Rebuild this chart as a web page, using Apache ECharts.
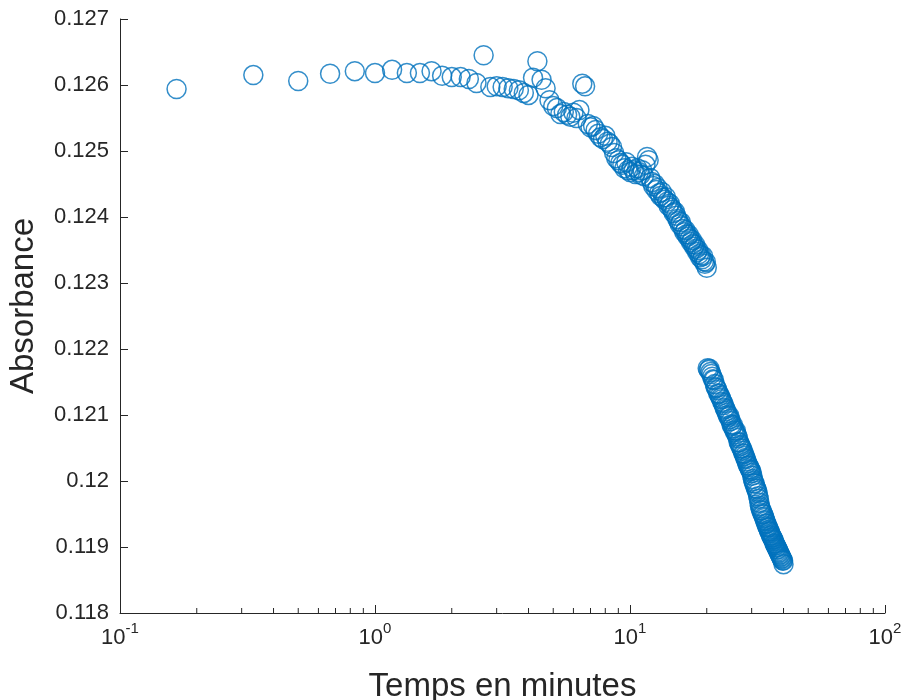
<!DOCTYPE html>
<html>
<head>
<meta charset="utf-8">
<script src="https://cdn.jsdelivr.net/npm/echarts@6/dist/echarts.min.js"></script>
<style>
html,body{margin:0;padding:0;background:#fff;}
#chart{width:904px;height:700px;}
</style>
</head>
<body>
<div id="chart"></div>
<script>
// Sample times in seconds (10 s sampling)
const timeSeconds = [
10,20,30,40,50,60,70,80,90,100,110,120,
130,140,150,160,170,180,190,200,210,220,230,240,
250,260,270,280,290,300,310,320,330,340,350,360,
370,380,390,400,410,420,430,440,450,460,470,480,
490,500,510,520,530,540,550,560,570,580,590,600,
610,620,630,640,650,660,670,680,690,700,710,720,
730,740,750,760,770,780,790,800,810,820,830,840,
850,860,870,880,890,900,910,920,930,940,950,960,
970,980,990,1000,1010,1020,1030,1040,1050,1060,1070,1080,
1090,1100,1110,1120,1130,1140,1150,1160,1170,1180,1190,1200,
1210,1220,1230,1240,1250,1260,1270,1280,1290,1300,1310,1320,
1330,1340,1350,1360,1370,1380,1390,1400,1410,1420,1430,1440,
1450,1460,1470,1480,1490,1500,1510,1520,1530,1540,1550,1560,
1570,1580,1590,1600,1610,1620,1630,1640,1650,1660,1670,1680,
1690,1700,1710,1720,1730,1740,1750,1760,1770,1780,1790,1800,
1810,1820,1830,1840,1850,1860,1870,1880,1890,1900,1910,1920,
1930,1940,1950,1960,1970,1980,1990,2000,2010,2020,2030,2040,
2050,2060,2070,2080,2090,2100,2110,2120,2130,2140,2150,2160,
2170,2180,2190,2200,2210,2220,2230,2240,2250,2260,2270,2280,
2290,2300,2310,2320,2330,2340,2350,2360,2370,2380,2390,2400
];

const absorbance = [
0.12594,0.12615,0.12606,0.12617,0.12621,0.12618,0.12623,0.12618,0.12618,0.12621,0.12614,0.12612,
0.12612,0.12609,0.12603,0.12645,0.12597,0.12598,0.12597,0.12595,0.12594,0.12592,0.12588,0.12585,
0.12611,0.12636,0.12608,0.12595,0.12577,0.12568,0.12565,0.12556,0.12559,0.12555,0.12552,0.12558,
0.12550,0.12562,0.12602,0.12598,0.12541,0.12536,0.12538,0.12532,0.12526,0.12521,0.12518,0.12523,
0.12514,0.12511,0.12506,0.12497,0.12489,0.12486,0.12482,0.12479,0.12474,0.12483,0.12471,0.12468,
0.12476,0.12471,0.12465,0.12474,0.12468,0.12464,0.12471,0.12462,0.12479,0.12491,0.12486,0.12459,
0.12453,0.12447,0.12450,0.12441,0.12444,0.12436,0.12432,0.12438,0.12429,0.12426,0.12430,0.12423,
0.12417,0.12420,0.12414,0.12411,0.12406,0.12408,0.12402,0.12397,0.12394,0.12389,0.12392,0.12386,
0.12382,0.12377,0.12380,0.12374,0.12370,0.12373,0.12367,0.12362,0.12365,0.12359,0.12355,0.12358,
0.12352,0.12347,0.12350,0.12344,0.12339,0.12342,0.12336,0.12341,0.12333,0.12329,0.12332,0.12323,
0.12171,0.12168,0.12170,0.12165,0.12162,0.12158,0.12154,0.12153,0.12147,0.12142,0.12141,0.12138,
0.12133,0.12132,0.12129,0.12126,0.12124,0.12120,0.12118,0.12115,0.12111,0.12109,0.12106,0.12103,
0.12100,0.12097,0.12099,0.12094,0.12091,0.12086,0.12083,0.12085,0.12080,0.12077,0.12074,0.12076,
0.12071,0.12068,0.12065,0.12059,0.12058,0.12055,0.12053,0.12050,0.12049,0.12046,0.12042,0.12041,
0.12038,0.12035,0.12033,0.12030,0.12027,0.12024,0.12023,0.12021,0.12018,0.12017,0.12015,0.12012,
0.12008,0.12003,0.12000,0.11997,0.11996,0.11992,0.11989,0.11988,0.11985,0.11982,0.11977,0.11973,
0.11967,0.11962,0.11959,0.11956,0.11955,0.11952,0.11950,0.11949,0.11946,0.11944,0.11941,0.11939,
0.11936,0.11935,0.11932,0.11930,0.11929,0.11926,0.11924,0.11923,0.11921,0.11918,0.11917,0.11915,
0.11914,0.11912,0.11911,0.11909,0.11906,0.11905,0.11903,0.11902,0.11900,0.11899,0.11897,0.11896,
0.11894,0.11892,0.11891,0.11889,0.11888,0.11886,0.11885,0.11883,0.11882,0.11880,0.11879,0.11874
];

const xMinorTicks = [0.2,0.3,0.4,0.5,0.6,0.7,0.8,0.9,2,3,4,5,6,7,8,9,20,30,40,50,60,70,80,90];

const axisColor = '#262626';
const markerColor = '#0072BD';
const fontFam = '"Liberation Sans", Arial, Helvetica, sans-serif';

const points = timeSeconds.map((s, i) => [s / 60, absorbance[i]]);

const chart = echarts.init(document.getElementById('chart'), null, {renderer: 'canvas'});
chart.setOption({
  animation: false,
  backgroundColor: '#ffffff',
  grid: {left: 120, right: 19, top: 19, bottom: 87, containLabel: false, outerBoundsMode: 'none'},
  xAxis: {
    type: 'log',
    logBase: 10,
    min: 0.1,
    max: 100,
    name: 'Temps en minutes',
    nameLocation: 'middle',
    nameGap: 57,
    nameTextStyle: {fontSize: 33, color: axisColor, fontFamily: fontFam},
    axisLine: {show: true, lineStyle: {color: axisColor, width: 1}},
    axisTick: {show: true, inside: true, length: 8, lineStyle: {color: axisColor}},
    splitLine: {show: false},
    axisLabel: {
      margin: 8,
      color: axisColor,
      fontFamily: fontFam,
      formatter: function (v) {
        const e = Math.round(Math.log10(v));
        return '{b|10}{s|' + e + '}';
      },
      rich: {
        b: {fontSize: 22, color: axisColor, fontFamily: fontFam, verticalAlign: 'bottom', lineHeight: 28},
        s: {fontSize: 15, color: axisColor, fontFamily: fontFam, verticalAlign: 'top', lineHeight: 28}
      }
    }
  },
  yAxis: {
    type: 'value',
    min: 0.118,
    max: 0.127,
    interval: 0.001,
    name: 'Absorbance',
    nameLocation: 'middle',
    nameGap: 80,
    nameRotate: 90,
    nameTextStyle: {fontSize: 33, color: axisColor, fontFamily: fontFam, padding: [0, 0, 0, 20]},
    axisLine: {show: true, lineStyle: {color: axisColor, width: 1}},
    axisTick: {show: true, inside: true, length: 8, lineStyle: {color: axisColor}},
    splitLine: {show: false},
    axisLabel: {
      margin: 11,
      fontSize: 22,
      color: axisColor,
      fontFamily: fontFam,
      formatter: function (v) { return String(parseFloat(v.toFixed(3))); }
    }
  },
  series: [
    {
      type: 'scatter',
      data: points,
      symbol: 'circle',
      symbolSize: 19,
      itemStyle: {color: 'rgba(0,0,0,0)', borderColor: markerColor, borderWidth: 1.5},
      emphasis: {disabled: true},
      clip: false
    },
    {
      type: 'custom',
      data: xMinorTicks.map(v => [v, 0.118]),
      silent: true,
      clip: false,
      z: 10,
      renderItem: function (params, api) {
        const p = api.coord([api.value(0), api.value(1)]);
        return {
          type: 'line',
          shape: {x1: p[0], y1: p[1], x2: p[0], y2: p[1] - 5},
          style: {stroke: axisColor, lineWidth: 1}
        };
      }
    }
  ]
});
</script>
</body>
</html>
